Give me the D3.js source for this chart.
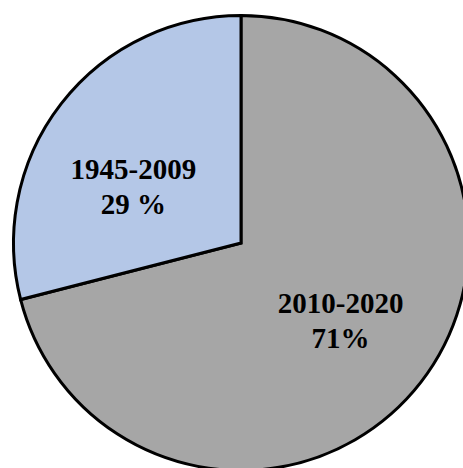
<!DOCTYPE html>
<html>
<head>
<meta charset="utf-8">
<script src="https://cdn.jsdelivr.net/npm/d3@7"></script>
<style>
  html, body { margin: 0; padding: 0; background: #fff; overflow: hidden; }
</style>
</head>
<body>
<div id="chart"></div>
<script>
// Chart data
var periods = ["2010-2020", "1945-2009"];
var shares = [71, 29];
var shareLabels = ["71%", "29 %"];

// Layout
var svgWidth = 463;
var svgHeight = 468;
var cx = 241, cy = 243;
var radius = 227.5;
var colors = ["#a6a6a6", "#b4c7e7"];
// hand nudges for the labels, like dragged labels in the original
var labelNudge = [[0, 0], [-8, 20]];

var svg = d3.select("#chart")
  .append("svg")
  .attr("width", svgWidth)
  .attr("height", svgHeight)
  .append("g")
  .attr("transform", "translate(" + cx + "," + cy + ")");

var pie = d3.pie().sort(null).value(function (d) { return d; });
var arcs = pie(shares);

var arc = d3.arc().innerRadius(0).outerRadius(radius);
var labelArc = d3.arc().innerRadius(126).outerRadius(126);

svg.selectAll("path")
  .data(arcs)
  .enter()
  .append("path")
  .attr("d", arc)
  .attr("fill", function (d, i) { return colors[i]; })
  .attr("stroke", "#000")
  .attr("stroke-width", 3)
  .attr("stroke-linejoin", "miter");

var labels = svg.selectAll("text")
  .data(arcs)
  .enter()
  .append("text")
  .attr("transform", function (d, i) {
    var c = labelArc.centroid(d);
    return "translate(" + (c[0] + labelNudge[i][0]) + "," + (c[1] + labelNudge[i][1]) + ")";
  })
  .attr("text-anchor", "middle")
  .style("font-family", "'Liberation Serif', 'Times New Roman', serif")
  .style("font-weight", "bold")
  .style("font-size", "29px")
  .attr("fill", "#000");

labels.append("tspan")
  .attr("x", 0)
  .attr("y", -7)
  .text(function (d, i) { return periods[i]; });

labels.append("tspan")
  .attr("x", 0)
  .attr("y", 28)
  .text(function (d, i) { return shareLabels[i]; });
</script>
</body>
</html>
